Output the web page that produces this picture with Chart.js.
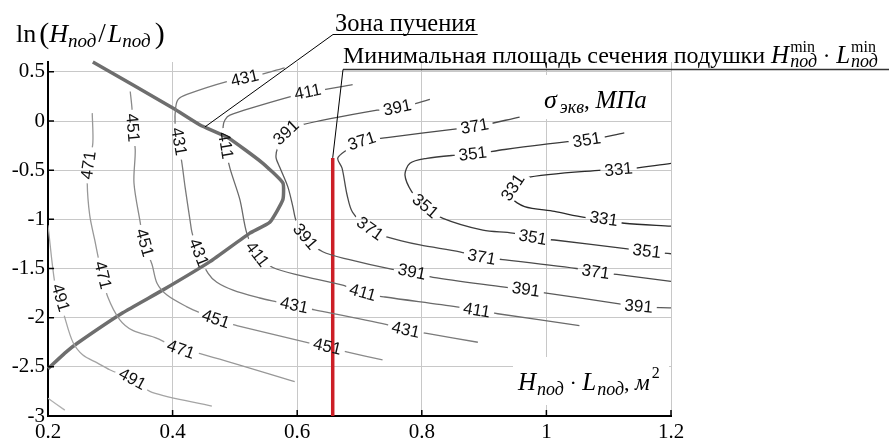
<!DOCTYPE html>
<html>
<head>
<meta charset="utf-8">
<script src="https://cdn.jsdelivr.net/npm/chart.js@4.4.1/dist/chart.umd.min.js"></script>
<style>
  html, body { margin: 0; padding: 0; background: #fff; }
  #box { width: 890px; height: 441px; }
</style>
</head>
<body>
<div id="box"><canvas id="chart"></canvas></div>
<script>
// axis ticks
const xTicks = [0.2, 0.4, 0.6, 0.8, 1, 1.2];
const xTickLabels = ['0.2', '0.4', '0.6', '0.8', '1', '1.2'];
const yTicks = [-3, -2.5, -2, -1.5, -1, -0.5, 0, 0.5];
const yTickLabels = ['-3', '-2.5', '-2', '-1.5', '-1', '-0.5', '0', '0.5'];

// contour lines (x = H*L, y = ln(H/L)); labN = indices of points carrying a label
const x511 = [0.200, 0.227];
const y511 = [-2.82, -2.94];
const lab511 = [];

const x491 = [0.200, 0.211, 0.219, 0.227, 0.240, 0.256, 0.279, 0.299, 0.335, 0.367, 0.463];
const y491 = [-1.06, -1.65, -1.80, -2.00, -2.25, -2.38, -2.46, -2.53, -2.63, -2.76, -2.90];
const lab491 = [2, 8];

const x471 = [0.271, 0.272, 0.266, 0.263, 0.267, 0.275, 0.283, 0.287, 0.296, 0.315, 0.336, 0.375, 0.413, 0.447, 0.596];
const y471 = [0.08, -0.22, -0.45, -0.63, -0.96, -1.21, -1.46, -1.57, -1.79, -2.02, -2.13, -2.21, -2.33, -2.37, -2.65];
const lab471 = [2, 7, 12];

const x451 = [0.332, 0.335, 0.335, 0.340, 0.338, 0.348, 0.354, 0.367, 0.375, 0.391, 0.423, 0.444, 0.469, 0.503, 0.620, 0.648, 0.681, 0.737];
const y451 = [0.30, 0.11, -0.07, -0.29, -0.63, -1.03, -1.24, -1.46, -1.65, -1.77, -1.89, -1.95, -2.02, -2.08, -2.26, -2.30, -2.35, -2.43];
const lab451 = [2, 6, 12, 15];

const x431 = [0.580, 0.516, 0.487, 0.423, 0.409, 0.405, 0.404, 0.409, 0.415, 0.420, 0.428, 0.431, 0.441, 0.457, 0.471, 0.497, 0.540, 0.567, 0.595, 0.628, 0.744, 0.774, 0.808, 0.890];
const y431 = [0.54, 0.43, 0.40, 0.27, 0.22, 0.14, -0.02, -0.21, -0.43, -0.67, -1.01, -1.13, -1.34, -1.55, -1.64, -1.72, -1.80, -1.84, -1.88, -1.92, -2.07, -2.13, -2.16, -2.25];
const lab431 = [1, 7, 12, 18, 21];

const x411 = [0.689, 0.617, 0.585, 0.492, 0.484, 0.481, 0.484, 0.492, 0.508, 0.519, 0.535, 0.561, 0.604, 0.673, 0.705, 0.741, 0.856, 0.888, 0.922, 1.053];
const y411 = [0.37, 0.29, 0.24, 0.06, 0.01, -0.06, -0.25, -0.48, -0.80, -1.14, -1.36, -1.49, -1.57, -1.67, -1.75, -1.79, -1.89, -1.93, -1.96, -2.08];
const lab411 = [1, 6, 10, 14, 17];

const x391 = [0.813, 0.761, 0.728, 0.607, 0.583, 0.569, 0.566, 0.572, 0.585, 0.593, 0.598, 0.612, 0.641, 0.684, 0.753, 0.784, 0.818, 0.933, 0.967, 1.000, 1.117, 1.148, 1.2];
const y391 = [0.22, 0.13, 0.11, -0.04, -0.12, -0.27, -0.37, -0.47, -0.67, -0.87, -1.01, -1.18, -1.33, -1.41, -1.51, -1.54, -1.59, -1.69, -1.72, -1.75, -1.86, -1.89, -1.90];
const lab391 = [1, 4, 11, 15, 18, 21];

const x371 = [0.957, 0.885, 0.856, 0.744, 0.704, 0.676, 0.665, 0.672, 0.680, 0.689, 0.716, 0.745, 0.797, 0.861, 0.896, 0.930, 1.048, 1.079, 1.113, 1.2];
const y371 = [0.04, -0.06, -0.08, -0.17, -0.21, -0.31, -0.38, -0.48, -0.75, -0.93, -1.10, -1.18, -1.26, -1.33, -1.39, -1.41, -1.50, -1.54, -1.56, -1.63];
const lab371 = [1, 4, 10, 14, 17];

const x351 = [1.125, 1.065, 1.034, 0.933, 0.882, 0.850, 0.808, 0.781, 0.773, 0.784, 0.805, 0.834, 0.898, 0.946, 0.978, 1.013, 1.130, 1.161, 1.2];
const y351 = [-0.12, -0.20, -0.21, -0.29, -0.34, -0.35, -0.38, -0.43, -0.55, -0.72, -0.87, -0.99, -1.11, -1.14, -1.19, -1.21, -1.30, -1.33, -1.35];
const lab351 = [1, 4, 10, 14, 17];

const x331 = [1.2, 1.116, 1.089, 0.965, 0.947, 0.944, 0.965, 1.013, 1.061, 1.092, 1.125, 1.2];
const y331 = [-0.43, -0.50, -0.50, -0.58, -0.68, -0.78, -0.87, -0.92, -0.98, -1.00, -1.04, -1.07];
const lab331 = [1, 4, 9];

// swelling zone boundary
const xZone = [0.272, 0.401, 0.444, 0.489, 0.543, 0.577, 0.577, 0.556, 0.524, 0.460, 0.384, 0.320, 0.247, 0.227, 0.200];
const yZone = [0.60, 0.13, -0.04, -0.17, -0.42, -0.63, -0.80, -1.03, -1.14, -1.43, -1.72, -1.95, -2.26, -2.36, -2.52];

// minimal cross-section area
const xMin = [0.657, 0.657];
const yMin = [-3, -0.375];

// leader anchor on the zone boundary
const zoneAnchor = [0.452, -0.06];

const SERIF = '"Liberation Serif", "Times New Roman", serif';
const SANS = '"Liberation Sans", Arial, sans-serif';
const rm = s => s + 'px ' + SERIF;
const it = s => 'italic ' + s + 'px ' + SERIF;
const LABEL_FONT = '17px ' + SANS;

const contours = [
  { level: 511, xs: x511, ys: y511, labels: lab511, color: '#b0b0b0' },
  { level: 491, xs: x491, ys: y491, labels: lab491, color: '#a4a4a4' },
  { level: 471, xs: x471, ys: y471, labels: lab471, color: '#989898' },
  { level: 451, xs: x451, ys: y451, labels: lab451, color: '#8a8a8a' },
  { level: 431, xs: x431, ys: y431, labels: lab431, color: '#7a7a7a' },
  { level: 411, xs: x411, ys: y411, labels: lab411, color: '#6a6a6a' },
  { level: 391, xs: x391, ys: y391, labels: lab391, color: '#5a5a5a' },
  { level: 371, xs: x371, ys: y371, labels: lab371, color: '#4a4a4a' },
  { level: 351, xs: x351, ys: y351, labels: lab351, color: '#3a3a3a' },
  { level: 331, xs: x331, ys: y331, labels: lab331, color: '#2a2a2a' }
];

const toPoints = (xs, ys) => xs.map((x, i) => ({ x: x, y: ys[i] }));

const datasets = contours.map(c => ({
  data: toPoints(c.xs, c.ys),
  level: c.level,
  contour: true,
  showLine: true,
  borderColor: c.color,
  borderWidth: 1.3,
  pointRadius: 0,
  tension: 0.3
}));
const lastContour = datasets.length - 1;

datasets.push({
  data: toPoints(xZone, yZone),
  showLine: true,
  borderColor: '#6e6e6e',
  borderWidth: 3.5,
  pointRadius: 0,
  tension: 0.15,
  clip: false
});
datasets.push({
  data: toPoints(xMin, yMin),
  showLine: true,
  borderColor: '#cc1f26',
  borderWidth: 3.5,
  pointRadius: 0
});

function pix(chart, x, y) {
  return { x: chart.scales.x.getPixelForValue(x), y: chart.scales.y.getPixelForValue(y) };
}

function labelBoxes(chart) {
  const ctx = chart.ctx;
  ctx.save();
  ctx.font = LABEL_FONT;
  const out = [];
  contours.forEach(c => {
    c.labels.forEach(i => {
      const p = pix(chart, c.xs[i], c.ys[i]);
      const a = pix(chart, c.xs[i - 1], c.ys[i - 1]);
      const b = pix(chart, c.xs[i + 1], c.ys[i + 1]);
      let ang = Math.atan2(b.y - a.y, b.x - a.x);
      if (ang > Math.PI / 2) ang -= Math.PI;
      if (ang <= -Math.PI / 2) ang += Math.PI;
      const text = String(c.level);
      out.push({ level: c.level, x: p.x, y: p.y, ang: ang, text: text, w: ctx.measureText(text).width });
    });
  });
  ctx.restore();
  return out;
}

function rich(ctx, x, y, parts) {
  let cx = x;
  parts.forEach(p => {
    cx += p.gap || 0;
    if (p.stack) {
      let w = 0;
      p.stack.forEach(q => {
        ctx.font = q.f;
        ctx.fillText(q.t, cx, y + (q.dy || 0));
        w = Math.max(w, ctx.measureText(q.t).width);
      });
      cx += w;
    } else {
      ctx.font = p.f;
      ctx.fillText(p.t, cx, y + (p.dy || 0));
      cx += ctx.measureText(p.t).width;
    }
  });
  return cx;
}

const contourPlugin = {
  id: 'contourLabels',
  beforeDatasetsDraw(chart) {
    const ctx = chart.ctx;
    const ca = chart.chartArea;
    ctx.save();
    ctx.fillStyle = '#fff';
    // boxes behind the in-plot texts
    ctx.fillRect(ca.right - 131, ca.top + 13, 130, 44);
    ctx.fillRect(ca.right - 158, ca.bottom - 59, 156, 48);
    ctx.restore();
  },
  beforeDatasetDraw(chart, args) {
    const ds = chart.data.datasets[args.index];
    if (!ds.contour) return;
    const ctx = chart.ctx;
    ctx.save();
    ctx.beginPath();
    ctx.rect(0, 0, chart.width, chart.height);
    labelBoxes(chart).filter(l => l.level === ds.level).forEach(l => {
      const hw = l.w / 2 + 4, hh = 8;
      const c = Math.cos(l.ang), s = Math.sin(l.ang);
      const pts = [[-hw, -hh], [hw, -hh], [hw, hh], [-hw, hh]]
        .map(([u, v]) => [l.x + u * c - v * s, l.y + u * s + v * c]);
      ctx.moveTo(pts[0][0], pts[0][1]);
      pts.slice(1).forEach(p => ctx.lineTo(p[0], p[1]));
      ctx.closePath();
    });
    ctx.clip('evenodd');
  },
  afterDatasetDraw(chart, args) {
    const ds = chart.data.datasets[args.index];
    if (!ds.contour) return;
    const ctx = chart.ctx;
    ctx.restore();
    if (args.index !== lastContour) return;
    ctx.save();
    ctx.font = LABEL_FONT;
    ctx.fillStyle = '#111';
    ctx.textAlign = 'center';
    ctx.textBaseline = 'middle';
    labelBoxes(chart).forEach(l => {
      ctx.save();
      ctx.translate(l.x, l.y);
      ctx.rotate(l.ang);
      ctx.fillText(l.text, 0, 0);
      ctx.restore();
    });
    ctx.restore();
  },
  afterDraw(chart) {
    const ctx = chart.ctx;
    const ca = chart.chartArea;
    ctx.save();
    // inward tick marks
    ctx.strokeStyle = '#000';
    ctx.lineWidth = 1.5;
    ctx.beginPath();
    xTicks.forEach(v => {
      const x = chart.scales.x.getPixelForValue(v);
      ctx.moveTo(x, ca.bottom); ctx.lineTo(x, ca.bottom - 6);
    });
    yTicks.forEach(v => {
      const y = chart.scales.y.getPixelForValue(v);
      ctx.moveTo(ca.left, y); ctx.lineTo(ca.left + 6, y);
    });
    ctx.stroke();

    ctx.fillStyle = '#000';
    ctx.textAlign = 'left';
    ctx.textBaseline = 'alphabetic';

    // y axis title
    rich(ctx, 16, 42, [
      { t: 'ln', f: rm(26) },
      { t: '(', f: rm(30), gap: 3, dy: 1 },
      { t: 'H', f: it(26) },
      { t: 'под', f: it(19), dy: 5 },
      { t: '/', f: rm(27), gap: 2 },
      { t: 'L', f: it(26), gap: 2 },
      { t: 'под', f: it(19), dy: 5 },
      { t: ')', f: rm(30), gap: 4, dy: 1 }
    ]);

    // stress label
    rich(ctx, ca.right - 127, ca.top + 46, [
      { t: 'σ', f: it(26) },
      { t: 'экв', f: it(18), dy: 5, gap: 3 },
      { t: ', ', f: rm(23) },
      { t: 'МПа', f: it(25) }
    ]);

    // x axis title inside plot
    rich(ctx, ca.right - 153, ca.bottom - 26, [
      { t: 'H', f: it(25) },
      { t: 'под', f: it(18), dy: 5, gap: 1 },
      { t: ' · ', f: rm(22) },
      { t: 'L', f: it(25) },
      { t: 'под', f: it(18), dy: 5, gap: 1 },
      { t: ', ', f: rm(22) },
      { t: 'м', f: it(23) },
      { t: '2', f: rm(16), dy: -12, gap: 2 }
    ]);

    // annotation: swelling zone
    ctx.lineWidth = 1;
    const zEnd = rich(ctx, 335, 31, [{ t: 'Зона пучения', f: rm(24.5) }]);
    const za = pix(chart, zoneAnchor[0], zoneAnchor[1]);
    ctx.beginPath();
    ctx.moveTo(zEnd + 2, 34.5); ctx.lineTo(333, 34.5); ctx.lineTo(za.x, za.y);
    ctx.stroke();

    // annotation: minimal cross-section
    const mEnd = rich(ctx, 343, 63, [
      { t: 'Минимальная площадь сечения подушки ', f: rm(24) },
      { t: 'H', f: it(25) },
      { gap: 1, stack: [{ t: 'min', f: rm(16), dy: -11 }, { t: 'под', f: it(18), dy: 4 }] },
      { t: ' · ', f: rm(23) },
      { t: 'L', f: it(25) },
      { gap: 1, stack: [{ t: 'min', f: rm(16), dy: -11 }, { t: 'под', f: it(18), dy: 4 }] }
    ]);
    const ma = pix(chart, xMin[1], yMin[1]);
    ctx.strokeStyle = '#333';
    ctx.lineWidth = 1.6;
    ctx.beginPath();
    ctx.moveTo(Math.max(mEnd, 889), 69.5); ctx.lineTo(343, 69.5);
    ctx.stroke();
    ctx.strokeStyle = '#000';
    ctx.lineWidth = 1;
    ctx.beginPath();
    ctx.moveTo(343, 69.5); ctx.lineTo(ma.x, ma.y);
    ctx.stroke();
    ctx.restore();
  }
};

new Chart(document.getElementById('chart'), {
  type: 'scatter',
  data: { datasets: datasets },
  options: {
    responsive: true,
    maintainAspectRatio: false,
    animation: false,
    events: [],
    layout: { autoPadding: false, padding: { top: 62, right: 219, bottom: 0, left: 0 } },
    plugins: { legend: { display: false }, tooltip: { enabled: false } },
    scales: {
      x: {
        type: 'linear',
        min: 0.2,
        max: 1.2,
        afterBuildTicks: s => { s.ticks = xTicks.map(v => ({ value: v })); },
        afterFit: s => { s.height = 25; },
        grid: { color: '#c8c8c8', lineWidth: 1, drawTicks: false },
        border: { display: true, color: '#000', width: 2 },
        ticks: {
          padding: 4,
          color: '#000',
          font: { family: SERIF, size: 21 },
          callback: (v, i) => xTickLabels[i]
        }
      },
      y: {
        type: 'linear',
        min: -3,
        max: 0.6,
        afterBuildTicks: s => { s.ticks = yTicks.map(v => ({ value: v })); },
        afterFit: s => { s.width = 48; },
        grid: { color: '#c8c8c8', lineWidth: 1, drawTicks: false },
        border: { display: true, color: '#000', width: 2 },
        ticks: {
          padding: 3,
          color: '#000',
          font: { family: SERIF, size: 21 },
          callback: (v, i) => yTickLabels[i]
        }
      }
    }
  },
  plugins: [contourPlugin]
});
</script>
</body>
</html>
